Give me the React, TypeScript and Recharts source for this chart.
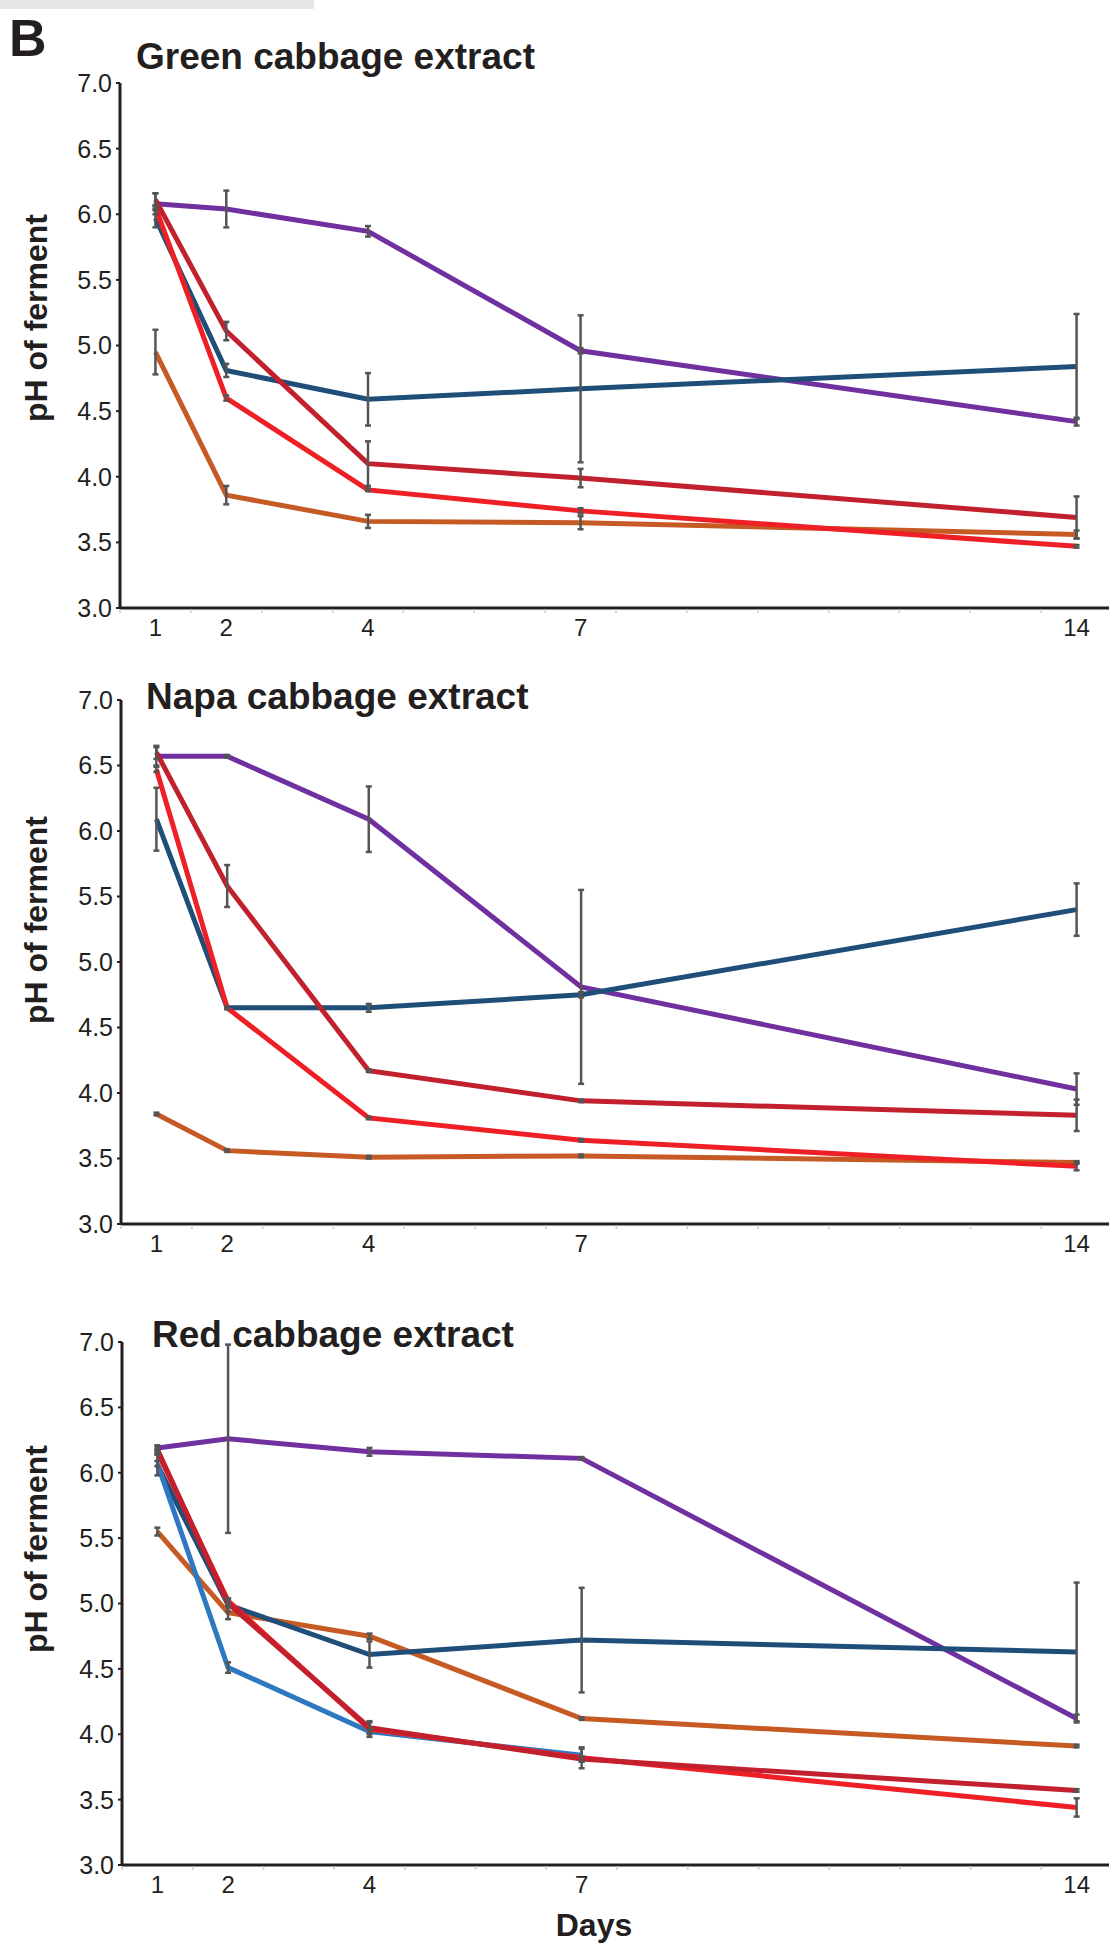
import React from "react";
import { LineChart, Line, XAxis, YAxis, ErrorBar } from "recharts";

const FONT = '"Liberation Sans", Arial, Helvetica, sans-serif';
const INK = "#231f20";

const days = [1, 2, 4, 7, 14];
const dayLabels = [1, 2, 4, 7, 14];
const halfDayTicks = [0.5, 1.5, 2.5, 3.5, 4.5, 5.5, 6.5, 7.5, 8.5, 9.5, 10.5, 11.5, 12.5, 13.5];
const phTicks = [3, 3.5, 4, 4.5, 5, 5.5, 6, 6.5, 7];

// Green cabbage extract
const greenPurple = [6.08, 6.04, 5.87, 4.96, 4.42];
const greenPurpleErr = [0.08, 0.14, 0.04, 0.02, 0.03];
const greenBlue = [5.97, 4.81, 4.59, 4.67, 4.84];
const greenBlueErr = [0.07, 0.05, 0.2, 0.56, 0.4];
const greenDarkRed = [6.11, 5.11, 4.1, 3.99, 3.69];
const greenDarkRedErr = [0.05, 0.07, 0.17, 0.07, 0.16];
const greenRed = [6.05, 4.6, 3.9, 3.74, 3.47];
const greenRedErr = [0.02, 0.02, 0.01, 0.02, 0.01];
const greenOrange = [4.95, 3.86, 3.66, 3.65, 3.56];
const greenOrangeErr = [0.17, 0.07, 0.05, 0.05, 0.03];

// Napa cabbage extract
const napaPurple = [6.57, 6.57, 6.09, 4.81, 4.03];
const napaPurpleErr = [0.07, 0.01, 0.25, 0.74, 0.12];
const napaBlue = [6.09, 4.65, 4.65, 4.75, 5.4];
const napaBlueErr = [0.24, 0.01, 0.03, 0.02, 0.2];
const napaDarkRed = [6.6, 5.58, 4.17, 3.94, 3.83];
const napaDarkRedErr = [0.05, 0.16, 0.01, 0.01, 0.12];
const napaRed = [6.47, 4.65, 3.81, 3.64, 3.44];
const napaRedErr = [0.02, 0.01, 0.01, 0.01, 0.03];
const napaOrange = [3.84, 3.56, 3.51, 3.52, 3.47];
const napaOrangeErr = [0.01, 0.01, 0.01, 0.01, 0.01];

// Red cabbage extract
const redPurple = [6.19, 6.26, 6.16, 6.11, 4.12];
const redPurpleErr = [0.02, 0.72, 0.03, 0.01, 0.03];
const redBlue = [6.06, 4.99, 4.61, 4.72, 4.63];
const redBlueErr = [0.08, 0.05, 0.1, 0.4, 0.53];
const redLightBlue = [6.07, 4.51, 4.02, 3.84, null];
const redLightBlueErr = [0.02, 0.04, 0.02, 0.05, null];
const redDarkRed = [6.18, 5.0, 4.05, 3.81, 3.57];
const redDarkRedErr = [0.02, 0.03, 0.04, 0.02, 0.01];
const redRed = [6.16, 5.02, 4.04, 3.82, 3.44];
const redRedErr = [0.02, 0.02, 0.06, 0.08, 0.07];
const redOrange = [5.55, 4.93, 4.75, 4.12, 3.91];
const redOrangeErr = [0.03, 0.05, 0.02, 0.01, 0.01];

const COLORS: Record<string, string> = {
  purple: "#7030a0",
  orange: "#c55a24",
  blue: "#1f4e79",
  lightBlue: "#2e78c0",
  red: "#ee1f25",
  darkRed: "#c1202c",
};
const DRAW_ORDER = ["purple", "orange", "blue", "lightBlue", "red", "darkRed"];

function buildRows(cols: Record<string, (number | null)[]>) {
  return days.map((day, i) => {
    const row: any = { day };
    Object.keys(cols).forEach((k) => (row[k] = cols[k][i]));
    return row;
  });
}

const panels = [
  {
    title: "Green cabbage extract",
    rows: buildRows({
      purple: greenPurple, purpleErr: greenPurpleErr,
      blue: greenBlue, blueErr: greenBlueErr,
      darkRed: greenDarkRed, darkRedErr: greenDarkRedErr,
      red: greenRed, redErr: greenRedErr,
      orange: greenOrange, orangeErr: greenOrangeErr,
    }),
    top: 83.3, plotH: 525, axisX: 120, titleX: 136, titleY: 69, labelY: 318,
  },
  {
    title: "Napa cabbage extract",
    rows: buildRows({
      purple: napaPurple, purpleErr: napaPurpleErr,
      blue: napaBlue, blueErr: napaBlueErr,
      darkRed: napaDarkRed, darkRedErr: napaDarkRedErr,
      red: napaRed, redErr: napaRedErr,
      orange: napaOrange, orangeErr: napaOrangeErr,
    }),
    top: 700, plotH: 524, axisX: 121, titleX: 146, titleY: 709, labelY: 920,
  },
  {
    title: "Red cabbage extract",
    rows: buildRows({
      purple: redPurple, purpleErr: redPurpleErr,
      blue: redBlue, blueErr: redBlueErr,
      lightBlue: redLightBlue, lightBlueErr: redLightBlueErr,
      darkRed: redDarkRed, darkRedErr: redDarkRedErr,
      red: redRed, redErr: redRedErr,
      orange: redOrange, orangeErr: redOrangeErr,
    }),
    top: 1342, plotH: 523, axisX: 122, titleX: 152, titleY: 1347, labelY: 1549,
  },
];

const allXTicks = [...halfDayTicks, ...dayLabels].sort((a, b) => a - b);

function DayTick(props: any) {
  const { x, y, payload } = props;
  const v = payload.value;
  if (dayLabels.includes(v)) {
    return (
      <text x={x} y={y + 27.5} textAnchor="middle" fontSize={24} fill={INK} fontFamily={FONT}>
        {v}
      </text>
    );
  }
  return <line x1={x} x2={x} y1={y + 1.5} y2={y + 5} stroke="#d6d6d6" strokeWidth={2} />;
}

const MT = 24;
const XH = 40;

function Panel({ p }: { p: any }) {
  const keys = DRAW_ORDER.filter((k) => k in p.rows[0]);
  const h = MT + p.plotH + XH;
  return (
    <div style={{ position: "absolute", left: 0, top: p.top - MT, width: 1109, height: h, overflow: "hidden" }}>
      <LineChart width={1112} height={h} data={p.rows} margin={{ top: MT, right: 0, bottom: 0, left: p.axisX - 60 }}>
        <XAxis
          type="number"
          dataKey="day"
          domain={[0.5, 14.5]}
          allowDataOverflow
          ticks={allXTicks}
          interval={0}
          tick={DayTick}
          tickLine={false}
          tickSize={0}
          tickMargin={0}
          height={XH}
          axisLine={{ stroke: INK, strokeWidth: 3 }}
        />
        <YAxis
          type="number"
          domain={[3, 7]}
          allowDataOverflow
          ticks={phTicks}
          interval={0}
          width={60}
          tickFormatter={(v: number) => v.toFixed(1)}
          tick={{ fontSize: 25, fill: INK, fontFamily: FONT }}
          tickSize={4}
          tickMargin={4}
          tickLine={{ stroke: INK, strokeWidth: 2 }}
          axisLine={{ stroke: INK, strokeWidth: 3 }}
        />
        {keys.map((k) => (
          <Line
            key={k}
            type="linear"
            dataKey={k}
            stroke={COLORS[k]}
            strokeWidth={5}
            dot={false}
            activeDot={false}
            isAnimationActive={false}
          />
        ))}
        {/* error bars drawn last so they sit on top of the lines */}
        {keys.map((k) => (
          <Line
            key={k + "-err"}
            type="linear"
            dataKey={k}
            stroke="none"
            strokeWidth={0}
            dot={false}
            activeDot={false}
            isAnimationActive={false}
          >
            <ErrorBar dataKey={k + "Err"} width={3} strokeWidth={2.5} stroke="#555555" direction="y" />
          </Line>
        ))}
      </LineChart>
    </div>
  );
}

export default function App() {
  return (
    <div style={{ position: "absolute", left: 0, top: 0, width: 1109, height: 1945, overflow: "hidden", background: "#fff" }}>
      {panels.map((p) => (
        <Panel key={p.title} p={p} />
      ))}
      <svg width={1109} height={1945} style={{ position: "absolute", left: 0, top: 0, pointerEvents: "none" }}>
        <rect x={0} y={0} width={314} height={9} fill="#e6e7e8" />
        <text x={9} y={56} fontSize={52} fontWeight="bold" fill={INK} fontFamily={FONT}>
          B
        </text>
        {panels.map((p) => (
          <g key={p.title}>
            <text x={p.titleX} y={p.titleY} fontSize={37} fontWeight="bold" fill={INK} fontFamily={FONT}>
              {p.title}
            </text>
            <text
              transform={`translate(47, ${p.labelY}) rotate(-90)`}
              textAnchor="middle"
              fontSize={32}
              fontWeight="bold"
              fill={INK}
              fontFamily={FONT}
            >
              pH of ferment
            </text>
          </g>
        ))}
        <text x={594} y={1936} textAnchor="middle" fontSize={32} fontWeight="bold" fill={INK} fontFamily={FONT}>
          Days
        </text>
      </svg>
    </div>
  );
}
